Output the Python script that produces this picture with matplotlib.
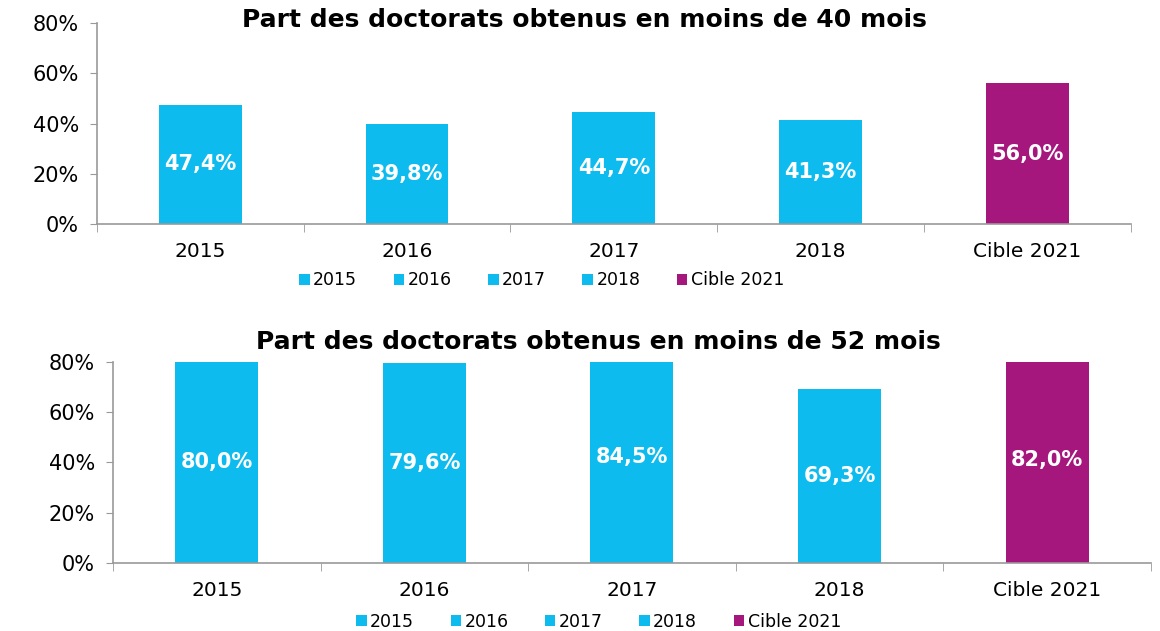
import matplotlib.pyplot as plt
from matplotlib.ticker import FuncFormatter

categories = ["2015", "2016", "2017", "2018", "Cible 2021"]
part_40_mois = [47.4, 39.8, 44.7, 41.3, 56.0]
part_52_mois = [80.0, 79.6, 84.5, 69.3, 82.0]
titles = ["Part des doctorats obtenus en moins de 40 mois",
          "Part des doctorats obtenus en moins de 52 mois"]

blue = "#0DBBEE"
purple = "#A6177D"
colors = [blue, blue, blue, blue, purple]

plt.rcParams['font.family'] = 'DejaVu Sans'

fig = plt.figure(figsize=(11.6, 6.31), dpi=100)
ax1 = fig.add_axes([0.0836, 0.645, 0.891, 0.3185])
ax2 = fig.add_axes([0.0974, 0.1078, 0.8948, 0.3185])

legend_pos = [(0.467, 0.556), (0.516, 0.0143)]
title_pos = [(0.472, 1.015), (0.468, 1.10)]

for ax, values, title, lpos, tpos in zip([ax1, ax2], [part_40_mois, part_52_mois],
                                         titles, legend_pos, title_pos):
    for i, (cat, v, c) in enumerate(zip(categories, values, colors)):
        ax.bar(i, v, width=0.4, color=c, label=cat)
        # label sits at half the value, even when the bar is clipped
        ax.text(i, v / 2, f"{v:.1f}%".replace(".", ","), ha="center", va="center",
                color="white", fontsize=15, fontweight="bold")
    ax.set_xlim(-0.5, len(categories) - 0.5)
    ax.set_ylim(0, 80)
    ax.set_yticks([0, 20, 40, 60, 80])
    ax.yaxis.set_major_formatter(FuncFormatter(lambda y, _: f"{y:.0f}%"))
    ax.set_xticks(range(len(categories)))
    ax.set_xticklabels(categories)
    ax.set_xticks([i - 0.5 for i in range(len(categories) + 1)], minor=True)
    ax.tick_params(axis="x", which="major", length=0, pad=13, labelsize=14.5)
    ax.tick_params(axis="x", which="minor", length=6, color="#999999", direction="out")
    ax.tick_params(axis="y", length=5, color="#999999", labelsize=15, pad=8)
    for side in ["top", "right"]:
        ax.spines[side].set_visible(False)
    for side in ["left", "bottom"]:
        ax.spines[side].set_color("#999999")
        ax.spines[side].set_linewidth(1.2)
    ax.text(tpos[0], tpos[1], title, transform=ax.transAxes, ha="center", va="center",
            fontsize=18, fontweight="bold")
    fig.legend(*ax.get_legend_handles_labels(), loc="center", bbox_to_anchor=lpos,
               ncol=5, frameon=False, fontsize=12.5, handlelength=0.6, handleheight=0.6,
               handletextpad=0.2, columnspacing=2.1, borderaxespad=0)

fig.savefig("out.png", dpi=100)
